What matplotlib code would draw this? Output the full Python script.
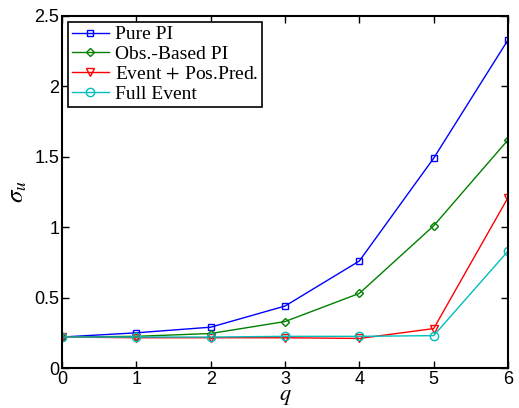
import numpy as np
import matplotlib
matplotlib.use("Agg")
import matplotlib.pyplot as plt

# --- data ---
q = [0, 1, 2, 3, 4, 5, 6]
pure_pi = [0.22, 0.25, 0.29, 0.44, 0.76, 1.49, 2.33]
obs_pi = [0.22, 0.225, 0.245, 0.33, 0.53, 1.01, 1.62]
event_pos = [0.22, 0.215, 0.215, 0.215, 0.21, 0.28, 1.21]
full_event = [0.22, 0.22, 0.22, 0.225, 0.225, 0.23, 0.83]

labels = ["Pure PI", "Obs.-Based PI", "Event$\\,+\\,$Pos.Pred.", "Full Event"]

plt.rcParams['mathtext.fontset'] = 'stix'
plt.rcParams['font.family'] = 'Liberation Sans'

fig = plt.figure(figsize=(5.19, 4.08), dpi=100)
ax = fig.add_axes([0.1195, 0.098, 0.8593, 0.8628])

series = [
    (pure_pi, 'b', 's', 4.5),
    (obs_pi, 'g', 'D', 4.5),
    (event_pos, 'r', 'v', 6),
    (full_event, 'c', 'o', 6),
]
for (vals, col, mk, ms), lab in zip(series, labels):
    ax.plot(q, vals, color=col, marker=mk, markersize=ms, markerfacecolor='none',
            markeredgecolor=col, markeredgewidth=1.0, linewidth=1.0, label=lab)

ax.set_xlim(0, 6)
ax.set_ylim(0, 2.5)
ax.set_xticks(q)
ax.set_yticks([0, 0.5, 1, 1.5, 2, 2.5])
ax.set_yticklabels(['0', '0.5', '1', '1.5', '2', '2.5'])
ax.tick_params(direction='in', top=True, right=True, labelsize=13, length=5, width=1)
ax.tick_params(axis='x', pad=2)
ax.tick_params(axis='y', pad=2)
for s in ax.spines.values():
    s.set_linewidth(1.5)

ax.set_xlabel('$q$', fontsize=16, labelpad=-1)
ax.set_ylabel('$\\sigma_u$', fontsize=18, labelpad=4)

leg = ax.legend(loc='upper left', prop={'family': 'Liberation Serif', 'size': 14},
                frameon=True, fancybox=False, edgecolor='k', framealpha=1,
                borderpad=0.2, labelspacing=0.12, handlelength=1.9,
                handletextpad=0.3, borderaxespad=0.3)
leg.get_frame().set_linewidth(1.2)

fig.savefig('out.png', dpi=100)
